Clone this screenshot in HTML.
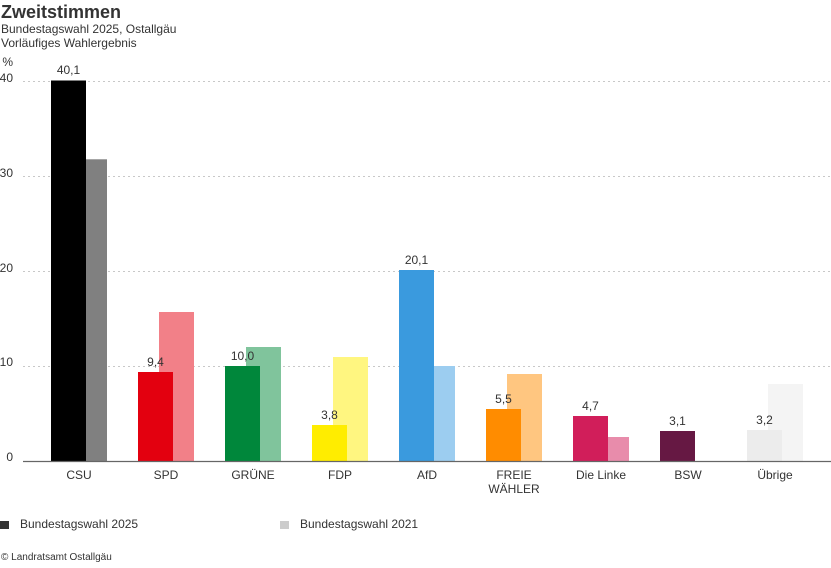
<!DOCTYPE html>
<html><head><meta charset="utf-8"><style>
html,body{margin:0;padding:0;background:#fff;}
svg{display:block;font-family:"Liberation Sans",sans-serif;}
</style></head><body>
<svg width="831" height="568" viewBox="0 0 831 568" xmlns="http://www.w3.org/2000/svg">
<text x="1" y="18" font-size="18" font-weight="bold" fill="#333">Zweitstimmen</text>
<text x="1" y="33" font-size="12" fill="#333">Bundestagswahl 2025, Ostallgäu</text>
<text x="1" y="47" font-size="12" fill="#333">Vorläufiges Wahlergebnis</text>
<text x="13" y="66" font-size="12" fill="#333" text-anchor="end">%</text>
<g font-size="12" fill="#333" text-anchor="end">
<text x="13" y="82">40</text>
<text x="13" y="177">30</text>
<text x="13" y="272">20</text>
<text x="13" y="366">10</text>
<text x="13" y="461">0</text>
</g>
<g stroke="#c8c8c8" stroke-width="1" stroke-dasharray="2,3">
<line x1="23" y1="81.5" x2="831" y2="81.5"/>
<line x1="23" y1="176.5" x2="831" y2="176.5"/>
<line x1="23" y1="271.5" x2="831" y2="271.5"/>
<line x1="23" y1="366.5" x2="831" y2="366.5"/>
</g>
<!-- 2021 bars -->
<g>
<rect x="72" y="159.3" width="35" height="301.7" fill="#808080"/>
<rect x="159" y="312" width="35" height="149" fill="#f28088"/>
<rect x="246" y="347" width="35" height="114" fill="#80c49c"/>
<rect x="333" y="357" width="35" height="104" fill="#fff680"/>
<rect x="420" y="366" width="35" height="95" fill="#9ccdf0"/>
<rect x="507" y="374" width="35" height="87" fill="#ffc680"/>
<rect x="594" y="437" width="35" height="24" fill="#e88cab"/>
<rect x="768" y="384" width="35" height="77" fill="#f4f4f4"/>
</g>
<!-- 2025 bars -->
<g>
<rect x="51" y="80.5" width="35" height="380.5" fill="#000"/>
<rect x="138" y="372" width="35" height="89" fill="#e3000f"/>
<rect x="225" y="366" width="35" height="95" fill="#00873b"/>
<rect x="312" y="425" width="35" height="36" fill="#ffed00"/>
<rect x="399" y="270" width="35" height="191" fill="#3a9ade"/>
<rect x="486" y="409" width="35" height="52" fill="#ff8c00"/>
<rect x="573" y="416" width="35" height="45" fill="#d11e5a"/>
<rect x="660" y="431" width="35" height="30" fill="#661843"/>
<rect x="747" y="430" width="35" height="31" fill="#ececec"/>
</g>
<line x1="23" y1="461.5" x2="831" y2="461.5" stroke="#666" stroke-width="1.2"/>
<g font-size="12" fill="#333" text-anchor="middle">
<text x="68.5" y="74">40,1</text>
<text x="155.5" y="366">9,4</text>
<text x="242.5" y="360">10,0</text>
<text x="329.5" y="419">3,8</text>
<text x="416.5" y="264">20,1</text>
<text x="503.5" y="403">5,5</text>
<text x="590.5" y="410">4,7</text>
<text x="677.5" y="425">3,1</text>
<text x="764.5" y="424">3,2</text>
</g>
<g font-size="12" fill="#333" text-anchor="middle">
<text x="79" y="479">CSU</text>
<text x="166" y="479">SPD</text>
<text x="253" y="479">GRÜNE</text>
<text x="340" y="479">FDP</text>
<text x="427" y="479">AfD</text>
<text x="514" y="479">FREIE</text>
<text x="514" y="493">WÄHLER</text>
<text x="601" y="479">Die Linke</text>
<text x="688" y="479">BSW</text>
<text x="775" y="479">Übrige</text>
</g>
<rect x="0" y="521" width="9" height="8" fill="#333"/>
<text x="20" y="528" font-size="12" fill="#333">Bundestagswahl 2025</text>
<rect x="280" y="521" width="9" height="8" fill="#ccc"/>
<text x="300" y="528" font-size="12" fill="#333">Bundestagswahl 2021</text>
<text x="1" y="560" font-size="10" fill="#333">© Landratsamt Ostallgäu</text>
</svg>
</body></html>
